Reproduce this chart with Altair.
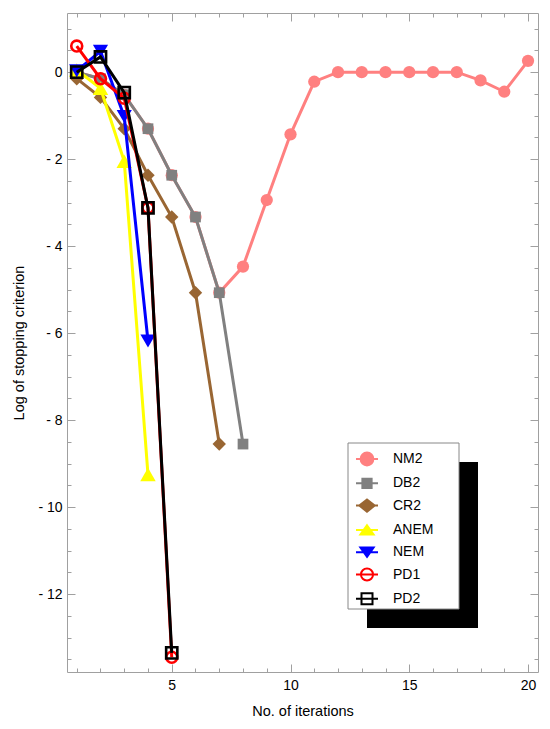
import altair as alt
import pandas as pd

# ---------------- data ----------------
series = ["NM2", "DB2", "CR2", "ANEM", "NEM", "PD1", "PD2"]

nm2_x = list(range(1, 21))
nm2_y = [0.0, -0.15, -0.52, -1.3, -2.37, -3.33, -5.07, -4.47, -2.94, -1.43,
         -0.22, 0.0, 0.0, 0.0, 0.0, 0.0, 0.0, -0.19, -0.45, 0.26]

db2_x = [1, 2, 3, 4, 5, 6, 7, 8]
db2_y = [0.0, -0.15, -0.52, -1.3, -2.37, -3.33, -5.07, -8.55]

cr2_x = [1, 2, 3, 4, 5, 6, 7]
cr2_y = [-0.15, -0.58, -1.3, -2.37, -3.33, -5.07, -8.55]

anem_x = [1, 2, 3, 4]
anem_y = [0.05, -0.37, -2.05, -9.25]

nem_x = [1, 2, 3, 4]
nem_y = [0.03, 0.48, -1.02, -6.18]

pd1_x = [1, 2, 3, 4, 5]
pd1_y = [0.6, -0.15, -0.6, -3.12, -13.45]

pd2_x = [1, 2, 3, 4, 5]
pd2_y = [0.0, 0.35, -0.47, -3.12, -13.35]

x_labels = [5, 10, 15, 20]
y_labels = [0, -2, -4, -6, -8, -10, -12]

# ---------------- styles ----------------
colors = {"NM2": "#FF8080", "DB2": "#808080", "CR2": "#996633",
          "ANEM": "#FFFF00", "NEM": "#0000FF", "PD1": "#FF0000", "PD2": "#000000"}
shapes = {"NM2": "circle", "DB2": "square", "CR2": "diamond",
          "ANEM": "triangle-up", "NEM": "triangle-down", "PD1": "circle", "PD2": "square"}
sizes = {"NM2": 150, "DB2": 115, "CR2": 180, "ANEM": 240, "NEM": 230, "PD1": 120, "PD2": 125}
filled = {"NM2": True, "DB2": True, "CR2": True, "ANEM": True, "NEM": True, "PD1": False, "PD2": False}

legend_paths = {
    "NM2": "M-1,0H1M0.58,0A0.58,0.58,0,1,1,-0.58,0A0.58,0.58,0,1,1,0.58,0Z",
    "DB2": "M-1,0H1M-0.42,-0.42H0.42V0.42H-0.42Z",
    "CR2": "M-1,0H1M0,-0.55L0.7,0L0,0.55L-0.7,0Z",
    "ANEM": "M-1,0H1M0,-0.42L0.6,0.42L-0.6,0.42Z",
    "NEM": "M-1,0H1M0,0.42L0.6,-0.42L-0.6,-0.42Z",
    "PD1": "M-1,0H1M0.55,0A0.55,0.55,0,1,1,-0.55,0A0.55,0.55,0,1,1,0.55,0Z",
    "PD2": "M-1,0H1M-0.5,-0.5H0.5V0.5H-0.5Z",
}

data = {
    "NM2": (nm2_x, nm2_y), "DB2": (db2_x, db2_y), "CR2": (cr2_x, cr2_y),
    "ANEM": (anem_x, anem_y), "NEM": (nem_x, nem_y), "PD1": (pd1_x, pd1_y),
    "PD2": (pd2_x, pd2_y),
}

W, H = 471, 659
FRAME = "#A0A0A0"
FONT = "Liberation Sans"

xs = alt.Scale(domain=[0.59, 20.42], nice=False, zero=False)
ys = alt.Scale(domain=[-13.79, 1.36], nice=False, zero=False)

frames = []
for s in series:
    xv, yv = data[s]
    frames.append(pd.DataFrame({"x": xv, "y": yv, "series": s}))
long_df = pd.concat(frames, ignore_index=True)

layers = []
for s in series:
    df = long_df[long_df["series"] == s]
    base = alt.Chart(df).encode(
        x=alt.X("x:Q", scale=xs, axis=None),
        y=alt.Y("y:Q", scale=ys, axis=None),
    )
    line = base.mark_line(color=colors[s], strokeWidth=3)
    if filled[s]:
        pt = base.mark_point(shape=shapes[s], size=sizes[s], filled=True,
                             color=colors[s], opacity=1, strokeWidth=0)
    else:
        pt = base.mark_point(shape=shapes[s], size=sizes[s], filled=False,
                             color=colors[s], opacity=1, strokeWidth=2.6, fill="transparent")
    layers += [line, pt]


def axis_layer(xaxis, yaxis):
    return alt.Chart(long_df).mark_point(opacity=0).encode(
        x=alt.X("x:Q", scale=xs, axis=xaxis),
        y=alt.Y("y:Q", scale=ys, axis=yaxis),
    )


common = dict(domain=False, grid=False, tickColor=FRAME, tickWidth=1)

# labels + titles (left & bottom)
lab = axis_layer(
    alt.Axis(orient="bottom", values=x_labels, ticks=False, tickSize=0, labelPadding=6,
             title="No. of iterations", titlePadding=12, domain=False, grid=False,
             labelFont=FONT, labelFontSize=14, labelColor="black",
             titleFont=FONT, titleFontSize=14.5, titleFontWeight="normal", titleColor="black"),
    alt.Axis(orient="left", values=y_labels, ticks=False, tickSize=0, labelPadding=5,
             title="Log of stopping criterion", titlePadding=11, domain=False, grid=False,
             labelExpr="datum.value < 0 ? '- ' + abs(datum.value) : datum.label",
             labelFont=FONT, labelFontSize=14, labelColor="black",
             titleFont=FONT, titleFontSize=14.5, titleFontWeight="normal", titleColor="black"),
)

x_minor = list(range(1, 21))
y_minor = [v / 2 for v in range(-27, 3)]
y_major = [-12, -10, -8, -6, -4, -2, 0]

# inward ticks: bottom edge & left edge
t1 = axis_layer(
    alt.Axis(orient="top", offset=-H, values=x_labels, labels=False, title=None, tickSize=8, **common),
    alt.Axis(orient="right", offset=-W, values=y_major, labels=False, title=None, tickSize=8, **common),
)
t2 = axis_layer(
    alt.Axis(orient="top", offset=-H, values=x_minor, labels=False, title=None, tickSize=4, **common),
    alt.Axis(orient="right", offset=-W, values=y_minor, labels=False, title=None, tickSize=4, **common),
)
# inward ticks: top edge & right edge
t3 = axis_layer(
    alt.Axis(orient="bottom", offset=-H, values=x_labels, labels=False, title=None, tickSize=8, **common),
    alt.Axis(orient="left", offset=-W, values=y_major, labels=False, title=None, tickSize=8, **common),
)
t4 = axis_layer(
    alt.Axis(orient="bottom", offset=-H, values=x_minor, labels=False, title=None, tickSize=4, **common),
    alt.Axis(orient="left", offset=-W, values=y_minor, labels=False, title=None, tickSize=4, **common),
)

one = pd.DataFrame({"a": [0]})
shadow = alt.Chart(one).mark_rect(color="black").encode(
    x=alt.value(300), x2=alt.value(411), y=alt.value(449), y2=alt.value(615))
box = alt.Chart(one).mark_rect(fill="white", stroke="#888888", strokeWidth=1).encode(
    x=alt.value(281), x2=alt.value(392), y=alt.value(430), y2=alt.value(596))

legend = alt.Legend(orient="none", legendX=282, legendY=428, title=None, padding=6,
                    rowPadding=1.3, labelOffset=14, labelFont=FONT, labelFontSize=14,
                    labelColor="black", symbolSize=484, symbolStrokeWidth=2,
                    symbolOpacity=1)
fill_range = [colors[s] if filled[s] else "transparent" for s in series]
leg = alt.Chart(long_df).transform_filter("false").mark_point(opacity=1, filled=True).encode(
    fill=alt.Fill("series:N", scale=alt.Scale(domain=series, range=fill_range), legend=legend),
    stroke=alt.Stroke("series:N", scale=alt.Scale(domain=series, range=[colors[s] for s in series]), legend=legend),
    shape=alt.Shape("series:N", scale=alt.Scale(domain=series, range=[legend_paths[s] for s in series]), legend=legend),
)

chart = alt.layer(lab, t1, t2, t3, t4, *layers, shadow, box, leg).resolve_axis(
    x="independent", y="independent"
).properties(
    width=W, height=H,
    autosize=alt.AutoSizeParams(type="none"),
    padding={"left": 59, "top": 5, "right": 4, "bottom": 45},
    background="white",
).configure_view(stroke=FRAME, strokeWidth=1)

chart.save("out.html", embed_options={"renderer": "svg", "actions": False})
